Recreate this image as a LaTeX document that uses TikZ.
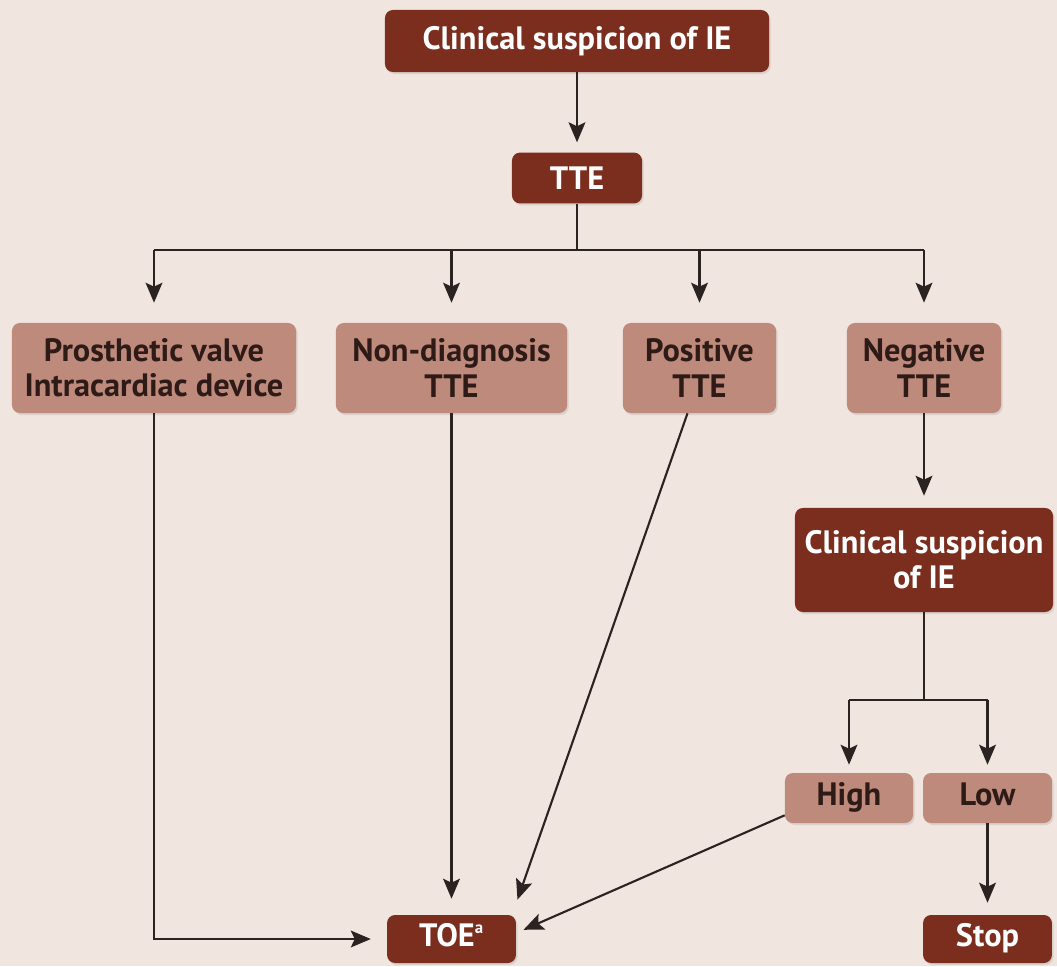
\documentclass[tikz,border=0pt]{standalone}
\usepackage{fontspec}
\setmainfont{PT Sans}
\usetikzlibrary{positioning, arrows.meta, shadows}
\definecolor{bgpink}{HTML}{F1E5E0}
\definecolor{darkbrown}{HTML}{7B2D1E}
\definecolor{lightbrown}{HTML}{BE8A7B}
\definecolor{inkline}{HTML}{2B2321}
\definecolor{inktext}{HTML}{2E1A16}
\tikzset{
  box/.style={rounded corners=0.2cm, inner sep=0pt, align=center,
    font=\fontsize{23}{25}\selectfont\bfseries,
    drop shadow={opacity=0.2, shadow xshift=0.04cm, shadow yshift=-0.05cm}},
  darkbox/.style={box, fill=darkbrown, text=white},
  lightbox/.style={box, fill=lightbrown, text=inktext},
  link/.style={draw=inkline, line width=1.5pt},
  arr/.style={link, -{Stealth[length=0.5cm, width=0.42cm, inset=0.1cm]}, shorten >=0.3cm},
}
\begin{document}
\begin{tikzpicture}[x=0.025cm, y=-0.025cm]
  \fill[bgpink] (0,0) rectangle (1057,966);
  \useasboundingbox (0,0) rectangle (1057,966);
  % boxes
  \node[darkbox, minimum width=9.6cm, minimum height=1.55cm] (top) at (577,41) {Clinical suspicion of IE};
  \node[darkbox, minimum width=3.25cm, minimum height=1.27cm] (tte) at (577,178) {TTE};
  \node[lightbox, minimum width=7.1cm, minimum height=2.25cm] (pros) at (154,368) {Prosthetic valve\\Intracardiac device};
  \node[lightbox, minimum width=5.78cm, minimum height=2.25cm] (nondiag) at (451.5,368) {Non-diagnosis\\TTE};
  \node[lightbox, minimum width=3.83cm, minimum height=2.25cm] (pos) at (699.5,368) {Positive\\TTE};
  \node[lightbox, minimum width=3.85cm, minimum height=2.25cm] (neg) at (924,368) {Negative\\TTE};
  \node[darkbox, minimum width=6.45cm, minimum height=2.6cm] (susp) at (924,560) {Clinical suspicion\\of IE};
  \node[lightbox, minimum width=3.2cm, minimum height=1.25cm] (high) at (849,798) {High\strut};
  \node[lightbox, minimum width=3.22cm, minimum height=1.25cm] (low) at (987.5,798) {Low\strut};
  \node[darkbox, minimum width=3.22cm, minimum height=1.2cm] (stop) at (987.5,939) {Stop\strut};
  \node[darkbox, minimum width=3.22cm, minimum height=1.2cm] (toe) at (451.5,939) {TOE\textsuperscript{\fontsize{12}{12}\selectfont a}\strut};
  % connectors
  \draw[arr, shorten >=0.25cm] (top) -- (tte);
  \coordinate (split) at (577,250);
  \draw[link] (tte) -- (split);
  \draw[link] (split -| pros) -- (split -| neg);
  \foreach \n in {pros, nondiag, pos, neg}
    \draw[arr, shorten >=0.5cm] (split -| \n) -- (\n);
  \draw[arr] (neg) -- (susp);
  \coordinate (split2) at (924,700);
  \draw[link] (susp) -- (split2);
  \draw[link] (split2 -| high) -- (split2 -| low);
  \draw[arr, shorten >=0.2cm] (split2 -| high) -- (high);
  \draw[arr, shorten >=0.2cm] (split2 -| low) -- (low);
  \draw[arr] (low) -- (stop);
  \draw[arr, shorten >=0.4cm] (pros) |- (toe);
  \draw[arr, shorten >=0.4cm] (nondiag) -- (toe);
  \draw[arr, shorten >=0.4cm] ([xshift=-0.3cm]pos.south) -- ([xshift=-0.1cm]toe.north east);
  \draw[arr, shorten >=0.2cm] ([yshift=0.2cm]high.south west) -- ([yshift=0.15cm]toe.east);
\end{tikzpicture}
\end{document}
